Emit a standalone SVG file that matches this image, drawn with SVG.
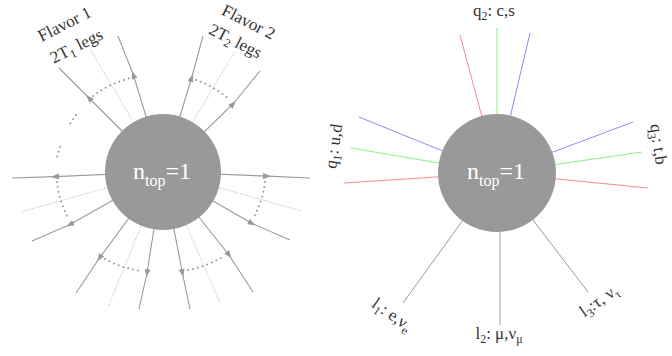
<svg xmlns="http://www.w3.org/2000/svg" width="672" height="356" viewBox="0 0 672 356">
<style>
.sol{stroke:#9a9a9a;stroke-width:1.1;fill:none}
.dl{stroke:#aaa;stroke-width:0.9;stroke-dasharray:1 1.5;fill:none}
.arc{stroke:#999;stroke-width:2;stroke-dasharray:0 5;stroke-linecap:round;fill:none}
.blob{fill:#999}
.nt{font-family:"Liberation Serif",serif;font-size:24px;fill:#fff}
.lab{font-family:"Liberation Serif",serif;font-size:17px;fill:#333}
.r{stroke:#f88;stroke-width:1}
.g{stroke:#8e8;stroke-width:1}
.b{stroke:#88f;stroke-width:1}
.gr{stroke:#999;stroke-width:1}
</style>
<defs>
<marker id="ar" markerWidth="9" markerHeight="7" refX="4" refY="3" orient="auto" markerUnits="userSpaceOnUse">
<path d="M0,0 L8,3 L0,6 z" fill="#999"/>
</marker>
</defs>
<g id="connectors">
<path class="sol" d="M163,172 L89,98 L59,68" marker-mid="url(#ar)"/>
<path class="dl" d="M163,172 L90,49"/>
<path class="sol" d="M163,172 L133.4,75 L118,36" marker-mid="url(#ar)"/>
<path class="sol" d="M163,172 L191.6,78 L203,36" marker-mid="url(#ar)"/>
<path class="dl" d="M163,172 L234,53"/>
<path class="sol" d="M163,172 L233,104 L260,71" marker-mid="url(#ar)"/>
<path class="sol" d="M163,172 L55,176.6 L12,178" marker-mid="url(#ar)"/>
<path class="dl" d="M163,172 L21,212"/>
<path class="sol" d="M163,172 L70,224.4 L32,241" marker-mid="url(#ar)"/>
<path class="sol" d="M163,172 L267,176.1 L310,178" marker-mid="url(#ar)"/>
<path class="dl" d="M163,172 L302,211"/>
<path class="sol" d="M163,172 L252,223.4 L290,240" marker-mid="url(#ar)"/>
<path class="sol" d="M163,172 L99.5,258 L76,293" marker-mid="url(#ar)"/>
<path class="dl" d="M163,172 L109,305"/>
<path class="sol" d="M163,172 L147,273 L139,309" marker-mid="url(#ar)"/>
<path class="sol" d="M163,172 L182.4,273 L190,309" marker-mid="url(#ar)"/>
<path class="dl" d="M163,172 L220,303"/>
<path class="sol" d="M163,172 L229,255 L253,292" marker-mid="url(#ar)"/>
<path class="arc" d="M93,96 A103,103 0 0 1 131,78"/>
<path class="arc" d="M196,80 A103,103 0 0 1 230,100"/>
<path class="arc" d="M57,182 A105,105 0 0 0 68,218"/>
<path class="arc" d="M265,182 A104,104 0 0 1 254,217"/>
<path class="arc" d="M105,259 A103,103 0 0 0 142,271"/>
<path class="arc" d="M188,270 A103,103 0 0 0 224,256"/>
<path class="arc" d="M76,115 L69.5,124.5"/>
<path class="arc" d="M60,147 L57,157.5"/>
<line class="r" x1="497" y1="173" x2="460" y2="35"/>
<line class="g" x1="497" y1="173" x2="497" y2="28"/>
<line class="b" x1="497" y1="173" x2="530" y2="33"/>
<line class="b" x1="497" y1="173" x2="359" y2="117"/>
<line class="g" x1="497" y1="173" x2="351" y2="148"/>
<line class="r" x1="497" y1="173" x2="344" y2="183"/>
<line class="b" x1="497" y1="173" x2="633" y2="122"/>
<line class="g" x1="497" y1="173" x2="642" y2="152"/>
<line class="r" x1="497" y1="173" x2="648" y2="188"/>
<line class="gr" x1="497" y1="173" x2="403" y2="303"/>
<line class="gr" x1="500" y1="173" x2="500" y2="325"/>
<line class="gr" x1="497" y1="173" x2="588" y2="292"/>
</g>
<g id="node-left">
<circle class="blob" cx="163" cy="172" r="58"/>
<text class="nt" x="162" y="179" text-anchor="middle">n<tspan font-size="16" dy="7">top</tspan><tspan dy="-7">=1</tspan></text>
</g>
<g id="node-right">
<circle class="blob" cx="497" cy="173" r="59"/>
<text class="nt" x="496" y="179" text-anchor="middle">n<tspan font-size="16" dy="7">top</tspan><tspan dy="-7">=1</tspan></text>
</g>
<g id="labels">
<text class="lab" text-anchor="middle" transform="translate(67,29) rotate(-27)">Flavor 1</text>
<text class="lab" text-anchor="middle" transform="translate(79,51) rotate(-27)">2T<tspan font-size="12" dy="4">1</tspan><tspan dy="-4"> legs</tspan></text>
<text class="lab" text-anchor="middle" transform="translate(246,27) rotate(27)">Flavor 2</text>
<text class="lab" text-anchor="middle" transform="translate(233,46) rotate(27)">2T<tspan font-size="12" dy="4">2</tspan><tspan dy="-4"> legs</tspan></text>
<text class="lab" text-anchor="middle" x="494" y="16">q<tspan font-size="12" dy="4">2</tspan><tspan dy="-4">: c,s</tspan></text>
<text class="lab" text-anchor="middle" transform="translate(339,147) rotate(-82)">q<tspan font-size="12" dy="4">1</tspan><tspan dy="-4">: u,d</tspan></text>
<text class="lab" text-anchor="middle" transform="translate(653,145) rotate(82)">q<tspan font-size="12" dy="4">3</tspan><tspan dy="-4">: t,b</tspan></text>
<text class="lab" text-anchor="middle" transform="translate(389,319) rotate(35)">l<tspan font-size="12" dy="4">1</tspan><tspan dy="-4">: e,ν</tspan><tspan font-size="12" dy="4">e</tspan></text>
<text class="lab" text-anchor="middle" x="499" y="339">l<tspan font-size="12" dy="4">2</tspan><tspan dy="-4">: μ,ν</tspan><tspan font-size="12" dy="4">μ</tspan></text>
<text class="lab" text-anchor="middle" transform="translate(602,305) rotate(-35)">l<tspan font-size="12" dy="4">3</tspan><tspan dy="-4">:τ, ν</tspan><tspan font-size="12" dy="4">τ</tspan></text>
</g>
</svg>
